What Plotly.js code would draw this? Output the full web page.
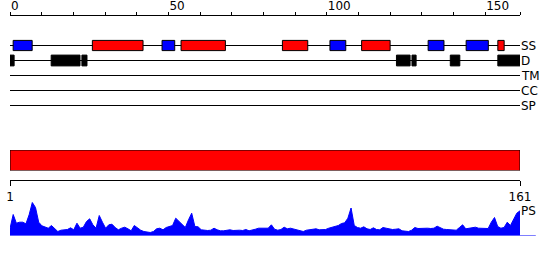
<!DOCTYPE html>
<html><head><meta charset="utf-8">
<script src="https://cdn.plot.ly/plotly-3.0.1.min.js"></script>
<style>html,body{margin:0;padding:0;background:#fff}#chart{width:550px;height:260px}</style>
</head><body><div id="chart"></div>
<script>
const seqLength = 161;
const trackNames = ['SS', 'D', 'TM', 'CC', 'SP'];
// secondary structure segments (H = helix, E = strand)
const ssStart = [1, 26, 48, 54, 86, 101, 111, 132, 144, 154];
const ssEnd   = [7, 42, 52, 68, 94, 106, 120, 137, 151, 156];
const ssType  = ['E', 'H', 'E', 'H', 'H', 'E', 'H', 'E', 'E', 'H'];
// disorder segments
const disStart = [0, 13, 22.7, 122, 126.9, 139, 154];
const disEnd   = [1.3, 22.1, 24.3, 126.3, 128.2, 142, 161.5];
// top ruler ticks
const topTickVals = [0, 10, 20, 30, 40, 50, 60, 70, 80, 90, 100, 110, 120, 130, 140, 150, 161];
const topTickText = ['0', '', '', '', '', '50', '', '', '', '', '100', '', '', '', '', '150', ''];
// bottom ruler ticks
const botTickVals = [1, 161];
const botTickText = ['1', '161'];
// PS profile per residue 1..161
const psValues = [
  7, 21, 12.3, 13.3, 13.3, 11.7, 20.7, 33, 28, 13.3,
  9.7, 8.7, 7.3, 10, 7.3, 4, 5.3, 5.7, 6, 7.7,
  5.7, 12.3, 7.3, 8.3, 14, 16.7, 10.7, 7.3, 20, 13.3,
  7.3, 10.7, 11.3, 8, 5.7, 7.3, 8.3, 6.7, 4.7, 10,
  7.3, 5.3, 4, 3.3, 3, 4, 6.7, 7.3, 5.7, 8,
  8.7, 10, 17.3, 14, 11.3, 8, 15.7, 22.3, 9, 8.7,
  5.7, 5, 5, 5.3, 7.3, 5.7, 4.7, 4.7, 5, 5.7,
  5, 5.3, 5.3, 5, 6, 4.7, 5.3, 6.3, 7.3, 7.3,
  8, 7.3, 10.7, 6.3, 5.3, 6, 8.3, 6.7, 7.3, 6.3,
  5.3, 4.7, 4, 5.3, 6, 6, 6.7, 5.7, 6, 6,
  7.3, 8, 9.3, 10, 12, 12.7, 17.3, 27.5, 10, 8,
  7.3, 8.7, 6.7, 6, 7.7, 6, 5.7, 8, 7.3, 6.7,
  6, 6.3, 6.7, 4.7, 4, 4, 5.3, 8, 7, 7.3,
  7.7, 7.3, 7, 7.3, 9.3, 8, 6.3, 6, 6, 5.7,
  5.3, 8, 10.7, 6.7, 7.3, 7.3, 8.3, 7.3, 7.3, 7.3,
  7, 13.3, 18, 9, 7.3, 8, 13.3, 10, 16.7, 22.3,
  24.7
];

const typeColor = {H: '#ff0000', E: '#0000ff'};
const FONT = {family: 'DejaVu Sans, sans-serif', size: 12, color: '#000'};

const traces = [
  {
    type: 'bar', orientation: 'h', xaxis: 'x', yaxis: 'y',
    y: ssStart.map(() => trackNames.indexOf('SS')),
    base: ssStart,
    x: ssStart.map((s, i) => ssEnd[i] - s),
    width: 0.68,
    marker: {color: ssType.map(t => typeColor[t]), line: {color: '#000', width: 1}},
    hoverinfo: 'skip'
  },
  {
    type: 'bar', orientation: 'h', xaxis: 'x', yaxis: 'y',
    y: disStart.map(() => trackNames.indexOf('D')),
    base: disStart,
    x: disStart.map((s, i) => disEnd[i] - s),
    width: 0.72,
    marker: {color: '#000', line: {color: '#000', width: 1}},
    hoverinfo: 'skip'
  },
  {
    type: 'bar', orientation: 'h', xaxis: 'x', yaxis: 'y2',
    y: [0], base: [0], x: [seqLength], width: 1,
    marker: {color: '#ff0000', line: {color: '#000', width: 1}},
    hoverinfo: 'skip'
  },
  {
    type: 'scatter', mode: 'lines', xaxis: 'x2', yaxis: 'y3',
    x: psValues.map((_, i) => i + 1), y: psValues,
    fill: 'tozeroy', fillcolor: '#0000ff',
    line: {color: '#0000ff', width: 1},
    hoverinfo: 'skip'
  }
];

const shapes = trackNames.map((n, i) => ({
  type: 'line', xref: 'x', yref: 'y', x0: 0, x1: seqLength, y0: i, y1: i,
  line: {color: '#000', width: 1}, layer: 'below'
}));
shapes.push({type: 'line', xref: 'paper', yref: 'y3', x0: 0, x1: 1.031, y0: 0, y1: 0,
  line: {color: '#0000ff', width: 1}, layer: 'below'});

const annotations = trackNames.map((n, i) => ({
  text: n, xref: 'paper', yref: 'y', x: 1, y: i, xanchor: 'left', yanchor: 'middle',
  showarrow: false, font: FONT, borderpad: 0
}));
annotations.push({text: 'PS', xref: 'paper', yref: 'y3', x: 1, y: 24.7, xanchor: 'left', yanchor: 'middle',
  showarrow: false, font: FONT, borderpad: 0});

const layout = {
  width: 550, height: 260,
  margin: {l: 10, r: 30, t: 0, b: 0},
  paper_bgcolor: '#fff', plot_bgcolor: 'rgba(0,0,0,0)',
  showlegend: false, barmode: 'overlay',
  font: FONT,
  xaxis: {
    range: [0, seqLength], domain: [0, 1], anchor: 'free', position: 1 - 15 / 260, side: 'top',
    showline: true, linecolor: '#000', linewidth: 1,
    ticks: 'outside', ticklen: 3, tickcolor: '#000', tickwidth: 1,
    tickmode: 'array', tickvals: topTickVals, ticktext: topTickText,
    ticklabelposition: 'outside right', tickfont: FONT,
    showgrid: false, zeroline: false, fixedrange: true
  },
  xaxis2: {
    range: [1, seqLength], domain: [0, 1], anchor: 'free', position: 1 - 180.3 / 260, side: 'bottom',
    showline: true, linecolor: '#000', linewidth: 1,
    ticks: 'outside', ticklen: 5, tickcolor: '#000', tickwidth: 1,
    tickmode: 'array', tickvals: botTickVals, ticktext: botTickText, tickfont: FONT,
    showgrid: false, zeroline: false, fixedrange: true
  },
  yaxis: {domain: [1 - 113 / 260, 1 - 38 / 260], range: [4.5, -0.5], visible: false, fixedrange: true},
  yaxis2: {domain: [1 - 170.5 / 260, 1 - 150 / 260], range: [-0.5, 0.5], visible: false, fixedrange: true, anchor: 'x'},
  yaxis3: {domain: [1 - 235.5 / 260, 1 - 195.5 / 260], range: [0, 40], visible: false, fixedrange: true, anchor: 'x2'},
  shapes: shapes,
  annotations: annotations
};

Plotly.newPlot('chart', traces, layout, {staticPlot: true, displayModeBar: false});
</script>
</body></html>
